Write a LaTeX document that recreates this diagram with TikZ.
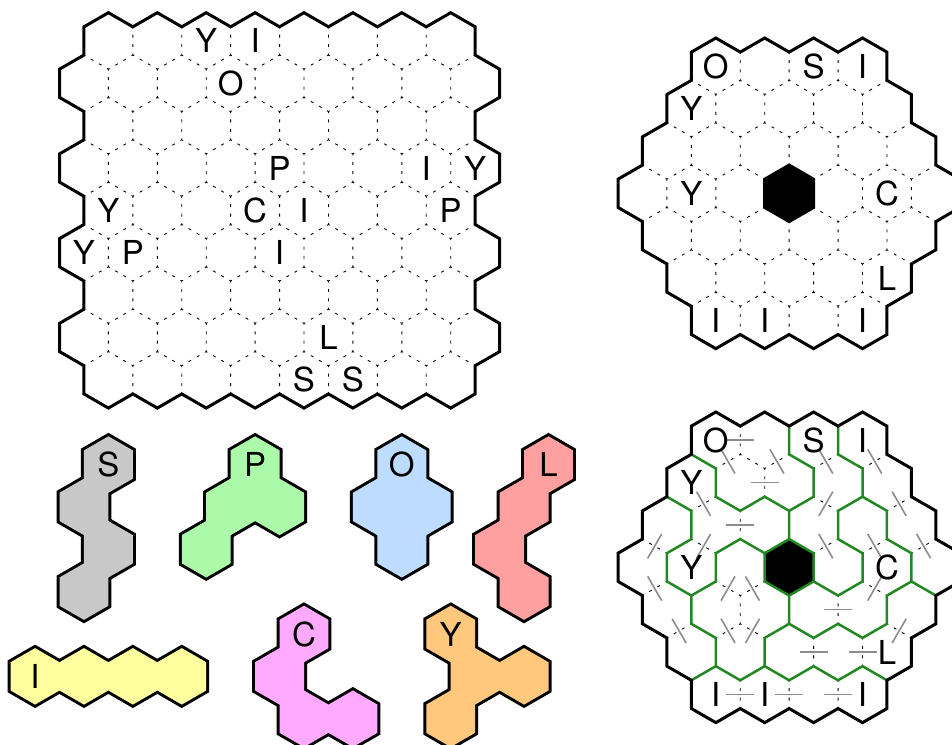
\documentclass[tikz,border=0pt]{standalone}
\usepackage{fontspec}
\setmainfont{TeX Gyre Heros}
\usetikzlibrary{calc}

\definecolor{solgreen}{RGB}{34,136,34}
\definecolor{pcS}{RGB}{200,200,200}
\definecolor{pcP}{RGB}{170,250,170}
\definecolor{pcO}{RGB}{190,220,255}
\definecolor{pcL}{RGB}{255,160,160}
\definecolor{pcI}{RGB}{255,255,160}
\definecolor{pcC}{RGB}{255,170,255}
\definecolor{pcY}{RGB}{255,200,125}

% hexagon with centre (#1,#2) in half-width / quarter-height units
\newcommand{\hexat}[2]{(#1-1,#2-1) -- (#1,#2-2) -- (#1+1,#2-1) -- (#1+1,#2+1) -- (#1,#2+2) -- (#1-1,#2+1) -- cycle}

\newcommand{\boardgrid}{%
  \foreach \r/\n in {0/4,1/5,2/6,3/7,4/6,5/5,6/4} {
    \pgfmathtruncatemacro\s{8-\n}
    \pgfmathtruncatemacro\t{10-\n}
    \pgfmathtruncatemacro\e{\n+6}
    \pgfmathtruncatemacro\y{3*\r+2}
    \foreach \x in {\s,\t,...,\e}
      \draw[gridline] (\x-1,\y+1) -- (\x-1,\y-1) -- (\x,\y-2) -- (\x+1,\y-1);
  }}
\newcommand{\boardrim}{(3,1) -- (4,0) -- (5,1) -- (6,0) -- (7,1) -- (8,0) -- (9,1) -- (10,0) -- (11,1)
  -- (11,3) -- (12,4) -- (12,6) -- (13,7) -- (13,9) -- (14,10) -- (14,12) -- (13,13) -- (13,15)
  -- (12,16) -- (12,18) -- (11,19) -- (11,21) -- (10,22) -- (9,21) -- (8,22) -- (7,21) -- (6,22)
  -- (5,21) -- (4,22) -- (3,21) -- (3,19) -- (2,18) -- (2,16) -- (1,15) -- (1,13) -- (0,12)
  -- (0,10) -- (1,9) -- (1,7) -- (2,6) -- (2,4) -- (3,3) -- cycle}
\newcommand{\boardletters}[1]{%
  \foreach \x/\y/\t [count=\i] in {4/2/O,8/2/S,10/2/I,3/5/Y,3/11/Y,11/11/C,11/17/L,4/20/I,6/20/I,10/20/I}
    \node[lbl] (#1\i) at (\x,\y) {\t};}
\newcommand{\drawpiece}[4]{% colour, cells, label cell, letter
  \foreach \x/\y in {#2} \draw[line width=6pt] \hexat{\x}{\y};
  \fill[#1] \foreach \x/\y in {#2} { \hexat{\x}{\y} };
  \node[lbl] (piece#4) at (#3) {#4};}

\begin{document}
\begin{tikzpicture}[x=1pt, y=-1pt,
    lbl/.style={font=\fontsize{33}{33}\selectfont, inner sep=0pt},
    rim/.style={line width=3pt},
    gridline/.style={line width=0.9pt, black, dash pattern=on 3pt off 6.41pt, dash phase=1.5pt},
    wall/.style={line width=2.5pt, solgreen},
    link/.style={line width=1.6pt, black!45}]
  \useasboundingbox (0,0) rectangle (952,744);
  \clip (0,0) rectangle (952,744);

  % rectangular board and the pieces
  \begin{scope}[shift={(59.5,12.7)}, x=24.45pt, y=-14.12pt]
    \foreach \r in {0,...,8} {
      \pgfmathtruncatemacro\s{2-mod(\r,2)}
      \pgfmathtruncatemacro\t{\s+2}
      \pgfmathtruncatemacro\e{16+mod(\r,2)}
      \pgfmathtruncatemacro\y{3*\r+2}
      \foreach \x in {\s,\t,...,\e}
        \draw[gridline] (\x-1,\y+1) -- (\x-1,\y-1) -- (\x,\y-2) -- (\x+1,\y-1);
    }
    \draw[rim] (1,1) \foreach \x in {2,4,...,16} { -- (\x,0) -- (\x+1,1) }
      -- (17,3) \foreach \r in {0,...,3} { -- (18,6*\r+4) -- (18,6*\r+6) -- (17,6*\r+7) -- (17,6*\r+9) }
      \foreach \x in {16,14,...,2} { -- (\x,28) -- (\x-1,27) }
      \foreach \r in {3,2,1,0} { -- (1,6*\r+7) -- (0,6*\r+6) -- (0,6*\r+4) -- (1,6*\r+3) } -- cycle;
    \foreach \x/\y/\t [count=\i] in {6/2/Y,8/2/I,7/5/O,9/11/P,15/11/I,17/11/Y,2/14/Y,8/14/C,10/14/I,16/14/P,1/17/Y,3/17/P,9/17/I,11/23/L,10/26/S,12/26/S}
      \node[lbl] (big\i) at (\x,\y) {\t};

    \drawpiece{pcS}{2/32,1/35,2/38,1/41}{2,32}{S}
    \drawpiece{pcP}{8/32,9/35,7/35,6/38}{8,32}{P}
    \drawpiece{pcO}{14/32,13/35,15/35,14/38}{14,32}{O}
    \drawpiece{pcL}{20/32,19/35,18/38,19/41}{20,32}{L}
    \drawpiece{pcI}{-1/47,1/47,3/47,5/47}{-1,47}{I}
    \drawpiece{pcC}{10/44,9/47,10/50,12/50}{10,44}{C}
    \drawpiece{pcY}{16/44,17/47,19/47,16/50}{16,44}{Y}
  \end{scope}

  % hexagonal board, puzzle
  \begin{scope}[shift={(618,38)}, x=24.45pt, y=-14.12pt]
    \boardgrid
    \filldraw[rim, fill=black] \hexat{7}{11};
    \draw[rim] \boardrim;
    \boardletters{top}
  \end{scope}

  % hexagonal board, solution
  \begin{scope}[shift={(618,412)}, x=24.45pt, y=-14.12pt]
    \boardgrid
    \foreach \a/\b/\c/\d in {5/1/5/3, 4/4/5/3, 6/4/7/3, 6/4/6/6, 8/4/9/3, 10/4/11/3, 3/7/4/6, 8/6/9/7,
        11/7/12/6, 5/7/5/9, 1/9/2/10, 3/9/4/10, 8/10/9/9, 10/10/11/9, 12/10/13/9, 1/13/2/12,
        4/12/5/13, 5/13/6/12, 10/12/11/13, 9/13/9/15, 2/16/3/15, 4/16/5/15, 5/15/6/16,
        11/15/12/16, 8/16/8/18, 10/16/10/18, 5/19/5/21, 7/19/7/21, 9/19/9/21}
      \draw[link] ($(\a,\b)!0.5!(\c,\d)!14pt!90:(\c,\d)$) -- ($(\a,\b)!0.5!(\c,\d)!14pt!-90:(\c,\d)$);
    \draw[wall] (3,3) -- (4,4) -- (4,6) -- (5,7) -- (6,6) -- (7,7) -- (7,9);
    \draw[wall] (7,1) -- (7,3) -- (8,4) -- (8,6) -- (7,7);
    \draw[wall] (9,1) -- (9,3) -- (10,4) -- (10,6) -- (9,7) -- (9,9) -- (10,10) -- (10,12) -- (9,13) -- (8,12);
    \draw[wall] (10,6) -- (11,7) -- (11,9) -- (12,10) -- (12,12) -- (13,13);
    \draw[wall] (12,12) -- (11,13) -- (11,15) -- (10,16) -- (9,15) -- (8,16) -- (7,15) -- (7,13);
    \draw[wall] (7,15) -- (6,16) -- (6,18);
    \draw[wall] (3,19) -- (4,18) -- (5,19) -- (6,18) -- (7,19) -- (8,18) -- (9,19) -- (10,18) -- (11,19);
    \draw[wall] (2,6) -- (3,7) -- (3,9) -- (2,10) -- (2,12) -- (3,13) -- (4,12) -- (4,10) -- (5,9) -- (6,10);
    \draw[wall] (3,13) -- (3,15) -- (4,16) -- (4,18);
    \filldraw[wall, fill=black] \hexat{7}{11};
    \draw[rim] \boardrim;
    \boardletters{sol}
  \end{scope}
\end{tikzpicture}
\end{document}
